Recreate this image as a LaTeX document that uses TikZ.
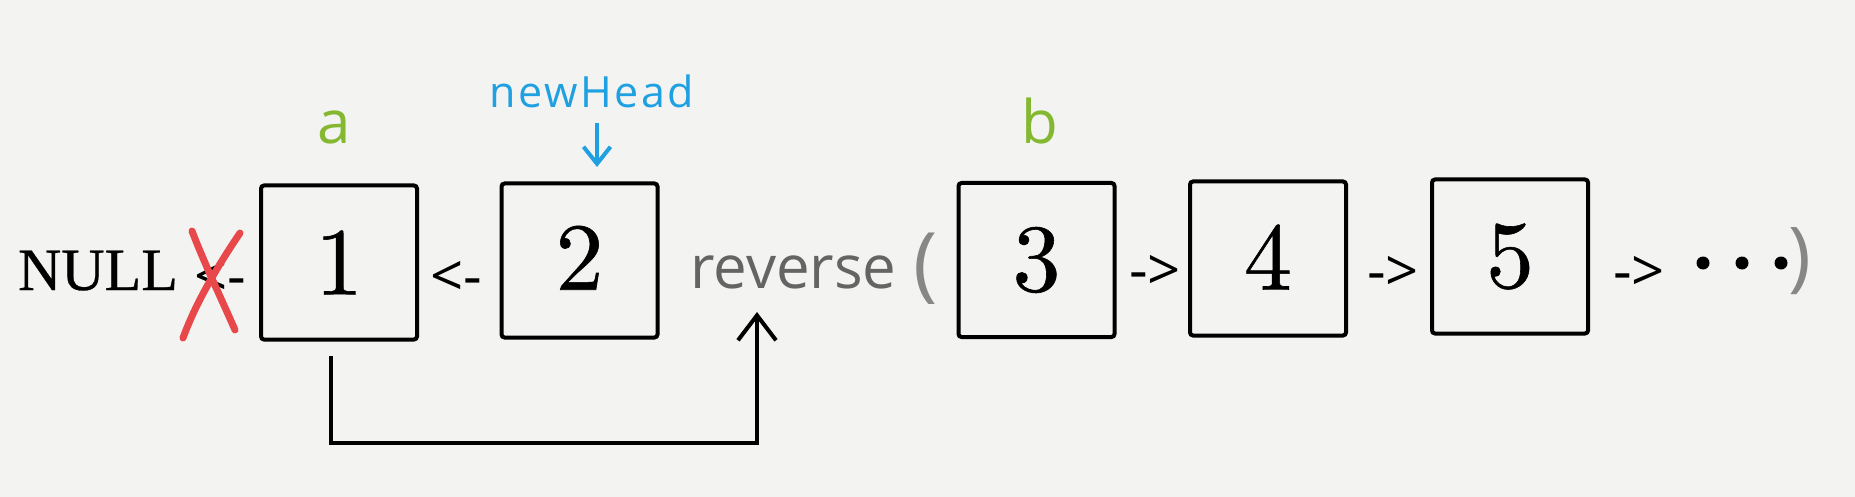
\documentclass[tikz,border=0pt]{standalone}
\usepackage{fontspec}
\newfontfamily\sans{Open Sans}
\newfontfamily\sanswide[LetterSpace=6]{Open Sans}
\newfontfamily\serifT[FakeBold=0.5]{Liberation Serif}
\newfontfamily\digfont[Extension=.otf,FakeBold=0.6]{lmroman10-regular}
\usetikzlibrary{arrows.meta}
\definecolor{bgc}{RGB}{243,243,242}
\definecolor{labgreen}{RGB}{132,184,48}
\definecolor{headblue}{RGB}{30,160,225}
\definecolor{crossred}{RGB}{232,72,74}
\definecolor{revgray}{RGB}{100,100,100}
\definecolor{pargray}{RGB}{135,135,135}
\tikzset{
  box/.style={draw, line width=2pt, rounded corners=1.5pt, minimum width=78pt,
    minimum height=77pt, inner sep=0pt, font=\digfont\fontsize{48}{48}\selectfont},
  lnk/.style={font=\sans\fontsize{29}{29}\selectfont, inner sep=0pt, anchor=base},
  lbl/.style={font=\sans\fontsize{30}{30}\selectfont, text=labgreen, inner sep=0pt, anchor=base},
  conn/.style={line width=2pt, -{Straight Barb[length=12.5pt,width=19pt,line width=2pt]}},
  harrow/.style={line width=2pt, draw=headblue, -{Straight Barb[length=8.5pt,width=13.5pt,line width=2pt]}},
  xred/.style={line width=3.5pt, draw=crossred, line cap=round},
  dotmark/.style={circle, fill=black, inner sep=0pt, minimum size=6.5pt},
}
\begin{document}
\begin{tikzpicture}[x=0.5pt,y=-0.5pt]
\fill[bgc] (0,0) rectangle (1855,497);
\useasboundingbox (0,0) rectangle (1855,497);
% boxes
\node[box] (n1) at (339,262.5) {1};
\node[box] (n2) at (579.5,260.5) {\raisebox{2.75pt}{2}};
\node[box] (n3) at (1036.5,260) {3};
\node[box] (n4) at (1268,258.5) {\raisebox{1.5pt}{4}};
\node[box] (n5) at (1510,256.5) {\raisebox{0.75pt}{5}};
% NULL and links
\node[font=\serifT\fontsize{30}{30}\selectfont, anchor=base, inner sep=0pt] (null) at (98,290) {NULL};
\node[lnk] (l0) at (220,296) {<-};
\node[lnk] (l1) at (456,296) {<-};
\node[lnk] (r1) at (1155,290.5) {->};
\node[lnk] (r2) at (1393,291) {->};
\node[lnk] (r3) at (1639,291) {->};
% reverse( ... )
\node[font=\sans\fontsize{30}{30}\selectfont, text=revgray, anchor=base, inner sep=0pt] (rev) at (793.5,288) {reverse};
\node[font=\sans\fontsize{41}{41}\selectfont, text=pargray, anchor=base, inner sep=0pt] (lp) at (926,291) {(};
\node[font=\sans\fontsize{38.5}{38.5}\selectfont, text=pargray, anchor=base, inner sep=0pt] (rp) at (1800,282) {)};
\node[dotmark] (d1) at (1703,263) {};
\node[dotmark] (d2) at (1742,263) {};
\node[dotmark] (d3) at (1781,263) {};
% labels
\node[lbl] (la) at (334,144) {a};
\node[lbl] (lb) at (1040,144) {b};
\node[font=\sanswide\fontsize{21.5}{21.5}\selectfont, text=headblue, anchor=base, inner sep=0pt] (nh) at (592,108) {newHead};
\coordinate (hs) at (597,123);
\coordinate (he) at (597,167);
\draw[harrow] (hs) -- (he);
% red cross
\draw[xred] (192,231) .. controls (205,265) and (222,300) .. (235,330);
\draw[xred] (240,233) .. controls (215,270) and (195,305) .. (183,338);
% recursion connector
\coordinate (cs) at (331,356);
\coordinate (ce) at (757,312);
\draw[conn] (cs) -- ++(0,87) -| (ce);
\end{tikzpicture}
\end{document}
